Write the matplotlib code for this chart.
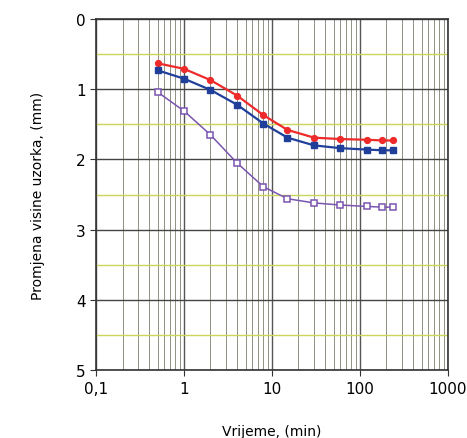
import numpy as np
import matplotlib
matplotlib.use("Agg")
import matplotlib.pyplot as plt
from matplotlib.ticker import FixedLocator, LogLocator, NullFormatter

# oedometer readings: time (min) vs settlement (mm)
time_min = [0.5, 1, 2, 4, 8, 15, 30, 60, 120, 180, 240]
red_mm = [0.63, 0.71, 0.87, 1.09, 1.37, 1.58, 1.69, 1.71, 1.72, 1.73, 1.73]
blue_mm = [0.73, 0.85, 1.01, 1.22, 1.49, 1.69, 1.80, 1.84, 1.86, 1.87, 1.87]
purple_mm = [1.04, 1.31, 1.65, 2.05, 2.39, 2.56, 2.62, 2.65, 2.67, 2.68, 2.68]

x_ticks = [0.1, 1, 10, 100, 1000]
x_labels = ["0,1", "1", "10", "100", "1000"]
y_ticks = [0, 1, 2, 3, 4, 5]

fig = plt.figure(figsize=(4.67, 4.39), dpi=100)
ax = fig.add_axes([0.2056, 0.1549, 0.7537, 0.7995])

ax.set_xscale("log")
ax.set_xlim(0.1, 1000)
ax.set_ylim(5, 0)

# grid: vertical log lines gray, integer rows dark, half rows yellow-green
ax.xaxis.set_minor_locator(LogLocator(base=10, subs=np.arange(2, 10)))
ax.xaxis.set_minor_formatter(NullFormatter())
ax.yaxis.set_minor_locator(FixedLocator([0.5, 1.5, 2.5, 3.5, 4.5]))
ax.grid(True, which="major", axis="x", color="#555555", lw=1.0)
ax.grid(True, which="minor", axis="x", color="#8f8f82", lw=0.7)
ax.grid(True, which="major", axis="y", color="#444444", lw=1.0)
ax.grid(True, which="minor", axis="y", color="#c9d65a", lw=1.0)
ax.set_axisbelow(True)

ax.plot(time_min, red_mm, "-o", color="#ee2a2a", lw=1.6, ms=4.2,
        mfc="#ee2a2a", mec="#ee2a2a")
ax.plot(time_min, blue_mm, "-s", color="#1f3f9a", lw=1.6, ms=4.2,
        mfc="#1f3f9a", mec="#1f3f9a")
ax.plot(time_min, purple_mm, "-s", color="#7a55b0", lw=1.1, ms=4.2,
        mfc="white", mec="#7a55b0", mew=1.1)

ax.set_xticks(x_ticks)
ax.set_xticklabels(x_labels)
ax.set_yticks(y_ticks)
ax.tick_params(axis="both", which="major", labelsize=11, length=4, color="#333333")
ax.tick_params(axis="both", which="minor", length=0)
ax.tick_params(axis="x", pad=4)

for s in ax.spines.values():
    s.set_color("#333333")
    s.set_linewidth(1.2)

ax.set_ylabel("Promjena visine uzorka, (mm)", fontsize=10, labelpad=22)
ax.set_xlabel("Vrijeme, (min)", fontsize=10, labelpad=20)

fig.savefig("out.png", dpi=100, facecolor="white")
